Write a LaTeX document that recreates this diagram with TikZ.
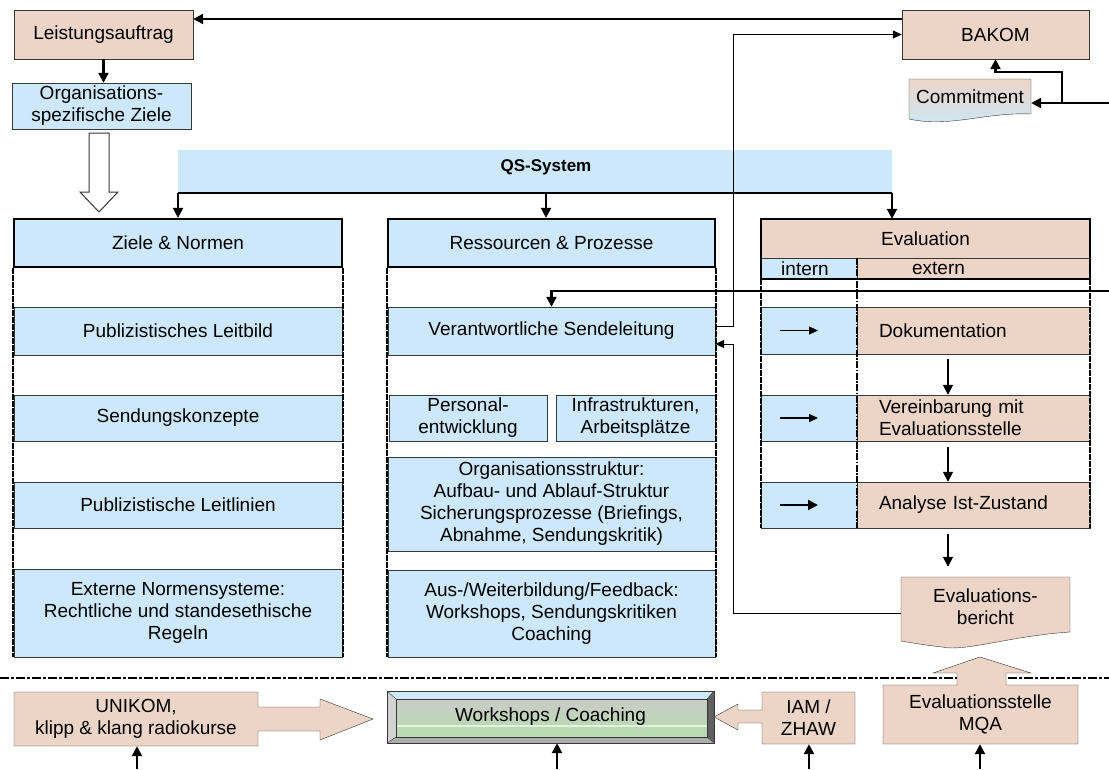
\documentclass[tikz,border=0pt]{standalone}
\usepackage{fontspec}
\setmainfont{Liberation Sans}
\usetikzlibrary{arrows.meta,positioning,calc}

\definecolor{peachfill}{RGB}{236,213,198}
\definecolor{bluefill}{RGB}{204,232,250}
\definecolor{boxline}{RGB}{55,55,55}
\definecolor{wsgray}{RGB}{200,204,198}
\definecolor{wsgreen}{RGB}{184,220,176}
\definecolor{wslight}{RGB}{222,250,214}

\tikzset{
  bluebox/.style 2 args={draw=boxline, fill=bluefill, minimum width=#1, minimum height=#2, align=center, inner sep=1pt},
  peachbox/.style 2 args={draw=boxline, fill=peachfill, minimum width=#1, minimum height=#2, align=center, inner sep=1pt},
  header/.style={line width=2.2pt, draw=black},
  arr/.style={-{Triangle[length=10pt,width=10pt]}, line width=2.2pt},
  thinarr/.style={-{Triangle[length=9pt,width=8pt]}, line width=1pt},
  colside/.style={line width=1.6pt, dash pattern=on 6pt off 1pt},
  midside/.style={line width=2.4pt, dash pattern=on 7pt off 1.5pt on 1.5pt off 1.5pt},
  sepline/.style={line width=2.8pt, dash pattern=on 9pt off 2pt on 3pt off 2pt},
  exttext/.style={text width=189pt, align=left, inner xsep=22pt},
}

\begin{document}
\begin{tikzpicture}[x=1pt,y=-1pt, every node/.style={font=\fontsize{19}{22}\selectfont}]
\useasboundingbox (0,0) rectangle (1109,769);

% top row
\node[peachbox={179}{49}] (leist) at (103.5,34.5) {Leistungsauftrag};
\node[bluebox={179}{46}] (orgziel) at (101.5,106) {Organisations-\\spezifische Ziele};
\node[peachbox={187}{49}] (bakom) at (995.5,34.5) {BAKOM};

\shade[top color=peachfill, middle color=gray!30, bottom color=bluefill]
  (909,79) -- (1031,79) -- (1031,114) .. controls (985,112) and (950,128) .. (909,119) -- cycle;
\draw[boxline] (909,79) -- (1031,79) -- (1031,114) .. controls (985,112) and (950,128) .. (909,119) -- cycle;
\node[minimum width=122, minimum height=36, inner sep=0pt] (commit) at (970,97) {Commitment};

\coordinate (rin1) at (1109,103);
\coordinate (cbr) at (1062,103);
\draw[arr] (rin1) -- (commit.east |- rin1);
\draw[arr] (cbr) -- ++(0,-31) -| (bakom.south);
\draw[arr] (bakom.west |- 0,19) -- (leist.east |- 0,19);
\draw[arr] (leist.south) -- (leist.south |- orgziel.north);

% hollow arrow
\draw[boxline, fill=white, line width=1pt] (89,133) -- (109,133) -- (109,192) -- (118,192) -- (99,212) -- (80,192) -- (89,192) -- cycle;

% QS-System
\fill[bluefill] (178,150) rectangle (892,193);
\node[font=\bfseries\fontsize{17}{20}\selectfont] (qs) at (546,167) {QS-System};
\coordinate (qsl) at (178,193);
\coordinate (qsr) at (892,193);

% column headers
\node[bluebox={328}{48}, header] (ziele) at (178,243) {Ziele \& Normen};
\node[bluebox={327}{48}, header] (ress) at (551.5,243) {Ressourcen \& Prozesse};
\node[peachbox={329}{39}] (eval) at (925.5,238.5) {Evaluation};
\node[bluebox={96}{21}, inner sep=0pt] (intern) at (809,268.5) {\hspace*{-8pt}intern};
\node[peachbox={233}{21}, inner sep=0pt] (extern) at (973.5,268.5) {\hspace*{-70pt}extern};
\draw[header] (eval.north west) rectangle (extern.south east);

\draw[line width=2.2pt] (qsl) -- (qsr);
\draw[arr] (qsl) -- (ziele.north);
\draw[arr] (qs.south |- qsl) -- (qs.south |- ress.north);
\draw[arr] (qsr) -- (qsr |- eval.north);

% Ziele & Normen
\node[bluebox={328}{48}] (leitbild) at (178,331) {Publizistisches Leitbild};
\node[bluebox={328}{46}] (konzepte) at (178,418) {Sendungskonzepte};
\node[bluebox={328}{46}] (leitlinien) at (178,505) {Publizistische Leitlinien};
\node[bluebox={328}{88}] (extnorm) at (178,613) {Externe Normensysteme:\\Rechtliche und standesethische\\Regeln};
\draw[colside] (ziele.south west) -- (ziele.south west |- extnorm.south);
\draw[colside] (ziele.south east) -- (ziele.south east |- extnorm.south);

% Ressourcen & Prozesse
\node[bluebox={327}{48}] (sendl) at (551.5,331) {Verantwortliche Sendeleitung};
\node[bluebox={158}{46}] (personal) at (468,418) {Personal-\\entwicklung};
\node[bluebox={159}{46}] (infra) at (635.5,418) {Infrastrukturen,\\Arbeitspl\"atze};
\node[bluebox={327}{94}] (orgstr) at (551.5,504) {Organisationsstruktur:\\Aufbau- und Ablauf-Struktur\\Sicherungsprozesse (Briefings,\\Abnahme, Sendungskritik)};
\node[bluebox={327}{87}] (ausbild) at (551.5,613.5) {Aus-/Weiterbildung/Feedback:\\Workshops, Sendungskritiken\\Coaching};
\draw[colside] (ress.south west) -- (ress.south west |- ausbild.south);
\draw[colside] (ress.south east) -- (ress.south east |- ausbild.south);

% Evaluation
\node[bluebox={96}{47}] (int1) at (809,330.5) {};
\node[bluebox={96}{46}] (int2) at (809,418) {};
\node[bluebox={96}{46}] (int3) at (809,505) {};
\node[peachbox={233}{47}, exttext] (dok) at (973.5,330.5) {Dokumentation};
\node[peachbox={233}{46}, exttext] (vereinb) at (973.5,418) {Vereinbarung mit\\Evaluationsstelle};
\node[peachbox={233}{46}, exttext] (ana) at (973.5,505) {Analyse Ist-Zustand};
\draw[thinarr] ($(int1.center)+(-29,0)$) -- ($(int1.center)+(9,0)$);
\draw[thinarr, line width=1.5pt] ($(int2.center)+(-29,0)$) -- ($(int2.center)+(9,0)$);
\draw[arr] ($(int3.center)+(-29,0)$) -- ($(int3.center)+(9,0)$);
\draw[colside] (intern.south west) -- (int3.south west);
\draw[colside] (extern.south east) -- (ana.south east);
\draw[midside] (intern.north east) -- (int3.south east);

\coordinate (xarr) at (948,0);
\draw[arr, line width=1.6pt] ($(dok.south -| xarr)+(0,5)$) -- (vereinb.north -| xarr);
\draw[arr, line width=1.6pt] ($(vereinb.south -| xarr)+(0,6)$) -- (ana.north -| xarr);

% Evaluationsbericht
\filldraw[fill=peachfill, draw=boxline] (901,577) -- (1070,577) -- (1070,632) .. controls (1010,636) and (965,652) .. (942,647) .. controls (925,645) .. (901,641) -- cycle;
\node[minimum width=169, minimum height=60, align=center] (evb) at (985.5,607) {Evaluations-\\bericht};
\draw[arr, line width=1.6pt] ($(ana.south -| xarr)+(0,6)$) -- ($(evb.north -| xarr)+(0,-10)$);

% loops to the right
\coordinate (xloop) at (733,0);
\draw[thinarr] ($(evb.west)+(0,6)$) -| (xloop |- 0,344) -- ($(sendl.east)+(0,13)$);
\draw[thinarr] ($(sendl.east)+(0,-5)$) -| (xloop |- bakom.west) -- (bakom.west);
\coordinate (rin2) at (1109,291);
\draw[arr] (rin2) -| (sendl.north);

% separator
\draw[sepline] (0,678) -- (1109,678);

% bottom row
\filldraw[fill=peachfill, draw=boxline] (14,692) -- (258,692) -- (258,707) -- (320,707) -- (320,699) -- (373,719) -- (320,740) -- (320,731) -- (258,731) -- (258,746) -- (14,746) -- cycle;
\node[minimum width=244, minimum height=54, align=center] (unikom) at (136,719) {UNIKOM,\\klipp \& klang radiokurse};

\fill[bluefill] (387,691) -- (714,691) -- (707,699) -- (396,699) -- cycle;
\fill[gray!35] (387,691) -- (396,699) -- (396,737) -- (387,743) -- cycle;
\fill[gray!75!black] (714,691) -- (714,743) -- (707,737) -- (707,699) -- cycle;
\fill[gray!65] (387,743) -- (714,743) -- (707,737) -- (396,737) -- cycle;
\shade[top color=wsgray, bottom color=wsgreen] (396,699) rectangle (707,737);
\draw[wslight, line width=2pt] (396,726) -- (707,726);
\draw[boxline] (387,691) rectangle (714,743);
\draw[boxline] (396,699) rectangle (707,737);
\draw[boxline] (387,691) -- (396,699) (714,691) -- (707,699) (387,743) -- (396,737) (714,743) -- (707,737);
\node[minimum width=327, minimum height=52] (ws) at (550.5,717) {Workshops / Coaching};

\filldraw[fill=peachfill, draw=boxline] (762,692) -- (855,692) -- (855,744) -- (762,744) -- (762,723) -- (738,723) -- (738,730) -- (714,717) -- (738,704) -- (738,710) -- (762,710) -- cycle;
\node[minimum width=93, minimum height=52, align=center] (iam) at (808.5,718) {IAM /\\ZHAW};

\filldraw[fill=peachfill, draw=boxline] (883,685) -- (957,685) -- (957,673) -- (933,673) -- (980,657) -- (1031,673) -- (1006,673) -- (1006,685) -- (1078,685) -- (1078,744) -- (883,744) -- cycle;
\node[minimum width=195, minimum height=59, align=center] (evst) at (980.5,714.5) {Evaluationsstelle\\MQA};

\coordinate (b1) at (137,769);
\coordinate (b2) at (557,769);
\coordinate (b3) at (809,769);
\coordinate (b4) at (980,769);
\draw[arr, line width=2.4pt] (b1) -- (b1 |- unikom.south);
\draw[arr, line width=2.4pt] (b2) -- (b2 |- ws.south);
\draw[arr, line width=2.4pt] (b3) -- (b3 |- iam.south);
\draw[arr, line width=2.4pt] (b4) -- (b4 |- evst.south);
\end{tikzpicture}
\end{document}
